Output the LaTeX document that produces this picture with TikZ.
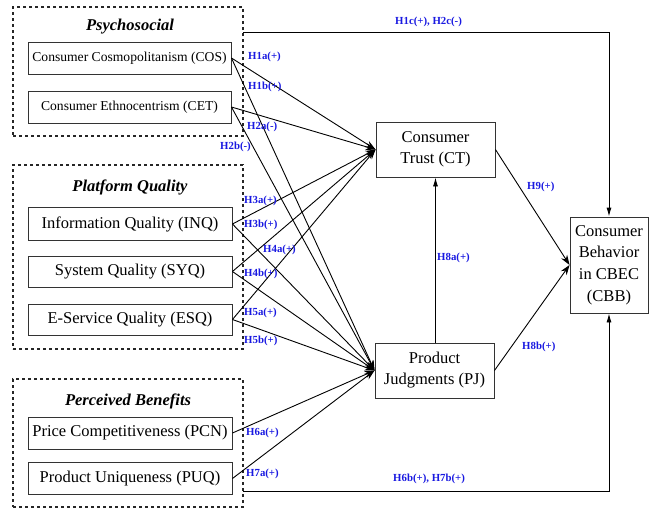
\documentclass[tikz,border=0pt]{standalone}
\usepackage{fontspec}
\setmainfont{Liberation Serif}
\usetikzlibrary{arrows.meta}
\definecolor{hyp}{RGB}{25,25,225}
\begin{document}
\begin{tikzpicture}[x=1pt,y=-1pt,
  box/.style={draw=black!80,line width=0.9pt,inner sep=0pt,align=center,font=\fontsize{16.5}{21}\selectfont},
  sbox/.style={box,font=\fontsize{13.6}{17}\selectfont},
  grp/.style={draw=black!85,dashed,dash pattern=on 3.2pt off 2.8pt,line width=1.2pt,inner sep=0pt},
  ttl/.style={font=\fontsize{16.5}{20}\selectfont\bfseries\itshape},
  hl/.style={text=hyp,font=\fontsize{10.8}{12}\selectfont\bfseries,inner sep=0pt,anchor=west},
  arr/.style={-{Stealth[length=10pt,width=7pt]},line width=0.9pt},
  varr/.style={-{Latex[length=9pt,width=5pt]},line width=0.9pt}]
\useasboundingbox (0,0) rectangle (649,509);
% groups
\node[grp,minimum width=230pt,minimum height=129pt] (psych) at (128,71.5) {};
\node[grp,minimum width=230pt,minimum height=184pt] (plat) at (128,257) {};
\node[grp,minimum width=230pt,minimum height=128pt] (bene) at (128,443) {};
\node[ttl] (t1) at (130,27) {Psychosocial};
\node[ttl] (t2) at (130,187) {Platform Quality};
\node[ttl] (t3) at (128,401) {Perceived Benefits};
% source boxes
\node[sbox,minimum width=203pt,minimum height=32pt] (COS) at (129.5,58) {Consumer Cosmopolitanism (COS)};
\node[sbox,minimum width=203pt,minimum height=32pt] (CET) at (129.5,107) {Consumer Ethnocentrism (CET)};
\node[box,minimum width=204pt,minimum height=33pt] (INQ) at (130,224) {Information Quality (INQ)};
\node[box,minimum width=204pt,minimum height=31pt] (SYQ) at (130,271.5) {System Quality (SYQ)};
\node[box,minimum width=204pt,minimum height=31pt] (ESQ) at (130,319.5) {E-Service Quality (ESQ)};
\node[box,minimum width=204pt,minimum height=32pt] (PCN) at (130,433) {Price Competitiveness (PCN)};
\node[box,minimum width=204pt,minimum height=32pt] (PUQ) at (130,478.5) {Product Uniqueness (PUQ)};
% mediators and outcome
\node[box,minimum width=119pt,minimum height=55pt] (CT) at (435.5,149.5) {Consumer\\Trust (CT)};
\node[box,minimum width=119pt,minimum height=55pt] (PJ) at (434.5,370.5) {Product\\Judgments (PJ)};
\node[box,minimum width=78pt,minimum height=96pt,font=\fontsize{16.5}{21.7}\selectfont] (CBB) at (609,265) {Consumer\\Behavior\\in CBEC\\(CBB)};
% arrows to CT and PJ
\foreach \s in {COS,CET,INQ,SYQ,ESQ}{
  \draw[arr] (\s.east) -- (CT.west);
  \draw[arr] (\s.east) -- (PJ.west);
}
\draw[arr] (PCN.east) -- (PJ.west);
\draw[arr] (PUQ.east) -- (PJ.west);
\draw[varr] (PJ.north -| CT.north) -- (CT.south);
\draw[arr] (CT.east) -- (CBB.west);
\draw[arr] (PJ.east) -- (CBB.west);
\coordinate (ts) at (243,32);
\coordinate (bs) at (243,491);
\draw[varr] (ts) -| (CBB.north);
\draw[varr] (bs) -| (CBB.south);
% labels
\node[hl] (l1) at (248,57) {H1a(+)};
\node[hl] (l2) at (248,87) {H1b(+)};
\node[hl] (l3) at (247,127) {H2a(-)};
\node[hl] (l4) at (220,147) {H2b(-)};
\node[hl] (l5) at (244,201) {H3a(+)};
\node[hl] (l6) at (244,225) {H3b(+)};
\node[hl] (l7) at (263,250) {H4a(+)};
\node[hl] (l8) at (244,274) {H4b(+)};
\node[hl] (l9) at (244,313) {H5a(+)};
\node[hl] (l10) at (244,341) {H5b(+)};
\node[hl] (l11) at (246,433) {H6a(+)};
\node[hl] (l12) at (246,474) {H7a(+)};
\node[hl] (l13) at (393,479) {H6b(+), H7b(+)};
\node[hl] (l14) at (395,22) {H1c(+), H2c(-)};
\node[hl] (l15) at (527,187) {H9(+)};
\node[hl] (l16) at (437,258) {H8a(+)};
\node[hl] (l17) at (522,347) {H8b(+)};
\end{tikzpicture}
\end{document}
